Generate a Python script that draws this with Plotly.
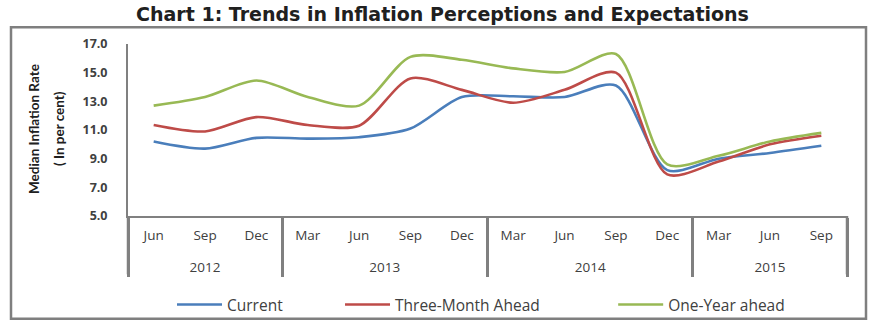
import plotly.graph_objects as go

years = ["2012"] * 3 + ["2013"] * 4 + ["2014"] * 4 + ["2015"] * 3
months = ["Jun", "Sep", "Dec", "Mar", "Jun", "Sep", "Dec", "Mar", "Jun", "Sep", "Dec", "Mar", "Jun", "Sep"]

current = [10.2, 9.7, 10.45, 10.4, 10.5, 11.1, 13.3, 13.35, 13.3, 14.1, 8.2, 9.0, 9.4, 9.9]
three_month = [11.35, 10.9, 11.9, 11.35, 11.3, 14.6, 13.8, 12.9, 13.8, 15.0, 7.9, 8.8, 10.0, 10.6]
one_year = [12.7, 13.3, 14.45, 13.3, 12.7, 16.1, 15.9, 15.3, 15.05, 16.3, 8.6, 9.2, 10.2, 10.8]

series_names = ["Current", "Three-Month Ahead", "One-Year ahead"]
series_colors = ["#4A7EBB", "#BE4B48", "#98B954"]
series_values = [current, three_month, one_year]
# extra spacing after legend entries (number of no-break spaces), as the reference legend is spread out
legend_pad = [13, 17, 0]

# make repeated month labels unique (invisible suffix) so the multicategory axis keeps time order
month_keys = [m + "\u200b" * i for i, m in enumerate(months)]
# year labels sit one line lower, as in the reference
year_keys = ["<br>" + y for y in years]

FONT = "Open Sans"
GRAY = "#808080"
fig = go.Figure()
for name, vals, color, pad in zip(series_names, series_values, series_colors, legend_pad):
    fig.add_trace(go.Scatter(
        x=[year_keys, month_keys], y=vals, name=name + "\u00a0" * pad, mode="lines",
        line=dict(color=color, width=2.6, shape="spline", smoothing=0.8),
    ))

W, H = 885, 334
L, R, T, B = 128, 38, 44, 116
pw, ph = W - L - R, H - T - B
def px(x): return (x - L) / pw
def py(y): return (H - B - y) / ph

# outer chart frame
fig.add_shape(type="rect", xref="paper", yref="paper",
              x0=px(11), x1=px(866), y0=py(322), y1=py(27),
              line=dict(color="#7f7f7f", width=2.5), fillcolor="rgba(0,0,0,0)", layer="below")
# edge dividers of the category axis
for xe in (0, 1):
    fig.add_shape(type="line", xref="paper", yref="paper", x0=xe, x1=xe, y0=0, y1=py(277),
                  line=dict(color=GRAY, width=2.5))

# y-axis title (two lines)
for txt, xpix in (("Median Inflation Rate", 34), ("( In per cent)", 59)):
    fig.add_annotation(text=txt, xref="paper", yref="paper", x=px(xpix), y=py(130),
                       textangle=-90, showarrow=False, xanchor="center", yanchor="middle",
                       font=dict(family="Lato", size=13.5, color="#202020", weight="bold"))

fig.update_layout(
    width=W, height=H,
    margin=dict(l=L, r=R, t=T, b=B),
    paper_bgcolor="white", plot_bgcolor="white",
    font=dict(family=FONT, color="#404040"),
    title=dict(text="<b>Chart 1: Trends in Inflation Perceptions and Expectations</b>",
               x=0.5, xanchor="center", y=1 - 14 / H, yanchor="middle",
               font=dict(family="DejaVu Sans", size=19, color="#202020")),
    showlegend=True,
    legend=dict(orientation="h", x=px(172), xanchor="left", y=py(308), yanchor="middle",
                font=dict(family=FONT, size=15.5, color="#404040"), itemwidth=45,
                bgcolor="rgba(0,0,0,0)"),
    xaxis=dict(type="multicategory", range=[-0.5, len(months) - 0.5],
               showline=True, linecolor=GRAY, linewidth=2,
               showgrid=False, ticks="", showdividers=True, dividercolor=GRAY,
               dividerwidth=2.5, ticklabelstandoff=6,
               tickfont=dict(family=FONT, size=13.5, color="#404040")),
    yaxis=dict(range=[5, 17], tick0=5, dtick=2, tickformat=".1f", showline=True, linecolor=GRAY,
               linewidth=2, showgrid=False, ticks="", ticklabelstandoff=16, zeroline=False,
               tickfont=dict(family=FONT, size=12.5, color="#404040", weight="bold")),
)

fig.write_html("out.html")
